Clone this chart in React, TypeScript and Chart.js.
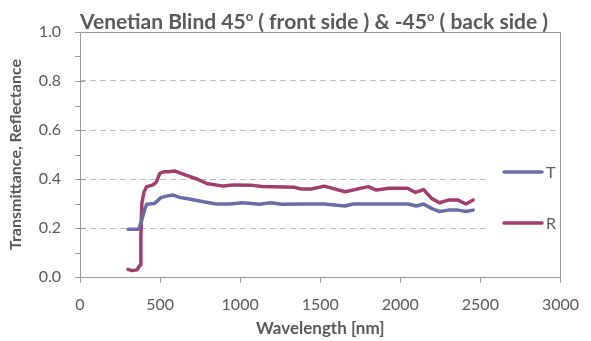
import React, { useEffect, useRef } from "react";
import { Chart, registerables } from "chart.js";

Chart.register(...registerables);

// ---- Data ----
const seriesNames = ["T", "R"];
const wavelengthT = [300, 366, 385, 406, 417, 465, 505, 540, 580, 620, 690, 770, 850, 935, 1015, 1120, 1190, 1260, 1400, 1525, 1655, 1705, 1800, 1900, 2050, 2100, 2145, 2195, 2245, 2300, 2360, 2410, 2455];
const valuesT = [0.195, 0.195, 0.23, 0.28, 0.297, 0.3, 0.324, 0.33, 0.335, 0.325, 0.317, 0.307, 0.298, 0.298, 0.303, 0.297, 0.303, 0.297, 0.298, 0.298, 0.29, 0.298, 0.298, 0.298, 0.298, 0.29, 0.298, 0.28, 0.267, 0.273, 0.273, 0.267, 0.273];
const wavelengthR = [300, 325, 355, 376, 380, 386, 400, 417, 457, 478, 498, 528, 550, 590, 630, 670, 730, 790, 895, 955, 1075, 1140, 1340, 1380, 1445, 1525, 1655, 1800, 1850, 1930, 2045, 2095, 2145, 2195, 2245, 2300, 2360, 2410, 2455];
const valuesR = [0.031, 0.026, 0.029, 0.049, 0.165, 0.3, 0.348, 0.369, 0.376, 0.389, 0.423, 0.43, 0.43, 0.433, 0.423, 0.414, 0.4, 0.382, 0.371, 0.376, 0.374, 0.369, 0.366, 0.359, 0.359, 0.371, 0.348, 0.369, 0.355, 0.362, 0.362, 0.345, 0.357, 0.321, 0.303, 0.314, 0.314, 0.298, 0.314];
const xTicks = [0, 500, 1000, 1500, 2000, 2500, 3000];
const yTicks = [0, 0.2, 0.4, 0.6, 0.8, 1.0];
const titleParts: { text: string; sup?: boolean }[] = [
  { text: "Venetian Blind 45" },
  { text: "o", sup: true },
  { text: " ( front side ) & -45" },
  { text: "o", sup: true },
  { text: " ( back side )" },
];
const xTitle = "Wavelength [nm]";
const yTitle = "Transmittance, Reflectance";

const colorT = "#6a6ca8";
const colorR = "#a23e6f";
const textColor = "#595959";
const FONT = "Lato";

const overlayPlugin = {
  id: "overlay",
  afterDatasetsDraw(chart: any) {
    const { ctx } = chart;
    ctx.save();
    ctx.fillStyle = "#ffffff";
    ctx.fillRect(490, 140, 76, 125);
    const items = [
      { name: seriesNames[0], color: colorT, y: 172 },
      { name: seriesNames[1], color: colorR, y: 223 },
    ];
    items.forEach((it) => {
      ctx.strokeStyle = it.color;
      ctx.lineWidth = 3.5;
      ctx.lineCap = "round";
      ctx.beginPath();
      ctx.moveTo(504, it.y);
      ctx.lineTo(542, it.y);
      ctx.stroke();
      ctx.fillStyle = textColor;
      ctx.font = `16px ${FONT}`;
      ctx.textBaseline = "middle";
      ctx.textAlign = "left";
      ctx.fillText(it.name, 546, it.y + 1);
    });
    ctx.restore();
  },
  afterDraw(chart: any) {
    const { ctx, chartArea: a, scales } = chart;
    const y = scales.y;
    ctx.save();
    ctx.strokeStyle = "#9a9a9a";
    ctx.lineWidth = 1;
    ctx.strokeRect(Math.round(a.left) + 0.5, Math.round(a.top) + 0.5, Math.round(a.right - a.left), Math.round(a.bottom - a.top));
    for (let i = 0; i <= 10; i++) {
      const py = Math.round(y.getPixelForValue(i / 10)) + 0.5;
      ctx.beginPath();
      ctx.moveTo(a.left - 5, py);
      ctx.lineTo(i % 2 === 0 ? a.left + 5 : a.left, py);
      ctx.stroke();
    }
    const mainFont = `bold 21px ${FONT}`;
    const supFont = `bold 13px ${FONT}`;
    let total = 0;
    titleParts.forEach((p) => {
      ctx.font = p.sup ? supFont : mainFont;
      total += ctx.measureText(p.text).width;
    });
    let x = 314 - total / 2;
    ctx.fillStyle = textColor;
    ctx.textBaseline = "alphabetic";
    ctx.textAlign = "left";
    titleParts.forEach((p) => {
      ctx.font = p.sup ? supFont : mainFont;
      ctx.fillText(p.text, x, p.sup ? 21 : 29);
      x += ctx.measureText(p.text).width;
    });
    ctx.restore();
  },
};

export default function App() {
  const ref = useRef<HTMLCanvasElement>(null);
  useEffect(() => {
    if (!ref.current) return;
    const chart = new Chart(ref.current, {
      type: "line",
      data: {
        datasets: [
          {
            label: seriesNames[0],
            data: wavelengthT.map((w, i) => ({ x: w, y: valuesT[i] })),
            borderColor: colorT,
            backgroundColor: colorT,
            borderWidth: 3.5,
            pointRadius: 0,
            tension: 0,
            borderJoinStyle: "round",
            borderCapStyle: "round",
          },
          {
            label: seriesNames[1],
            data: wavelengthR.map((w, i) => ({ x: w, y: valuesR[i] })),
            borderColor: colorR,
            backgroundColor: colorR,
            borderWidth: 3.5,
            pointRadius: 0,
            tension: 0,
            borderJoinStyle: "round",
            borderCapStyle: "round",
          },
        ],
      },
      options: {
        animation: false,
        responsive: true,
        maintainAspectRatio: false,
        layout: { padding: { top: 32, right: 19, left: 0, bottom: 0 } },
        plugins: { legend: { display: false }, tooltip: { enabled: false }, title: { display: false } },
        scales: {
          x: {
            type: "linear",
            min: 0,
            max: 3000,
            afterBuildTicks: (s: any) => {
              s.ticks = xTicks.map((v) => ({ value: v }));
            },
            afterFit: (s: any) => {
              s.height = 64;
            },
            ticks: {
              color: textColor,
              font: { family: FONT, size: 16 },
              padding: 12,
              maxRotation: 0,
              callback: (v: any) => String(v),
            },
            grid: { drawOnChartArea: false, drawTicks: true, tickLength: 6, tickColor: "#9a9a9a", color: "#9a9a9a" },
            border: { display: false },
            title: {
              display: true,
              text: xTitle,
              color: textColor,
              font: { family: FONT, size: 17, weight: "bold" },
              padding: { top: 0, bottom: 2 },
            },
          },
          y: {
            type: "linear",
            min: 0,
            max: 1,
            afterBuildTicks: (s: any) => {
              s.ticks = yTicks.map((v) => ({ value: v }));
            },
            afterFit: (s: any) => {
              s.width = 80;
            },
            ticks: {
              color: textColor,
              font: { family: FONT, size: 16 },
              padding: 19,
              callback: (v: any) => Number(v).toFixed(1),
            },
            grid: {
              drawTicks: false,
              color: (c: any) => (c.tick && (c.tick.value === 0 || c.tick.value === 1) ? "rgba(0,0,0,0)" : "#bdbdbd"),
              lineWidth: 1,
            },
            border: { display: false, dash: [6, 4] },
            title: {
              display: true,
              text: yTitle,
              color: textColor,
              font: { family: FONT, size: 16, weight: "bold" },
              padding: { top: 6, bottom: 0 },
            },
          },
        },
      },
      plugins: [overlayPlugin],
    } as any);
    return () => chart.destroy();
  }, []);
  return (
    <div style={{ position: "fixed", left: 0, top: 0, width: 591, height: 341, background: "#fff" }}>
      <canvas ref={ref} />
    </div>
  );
}
